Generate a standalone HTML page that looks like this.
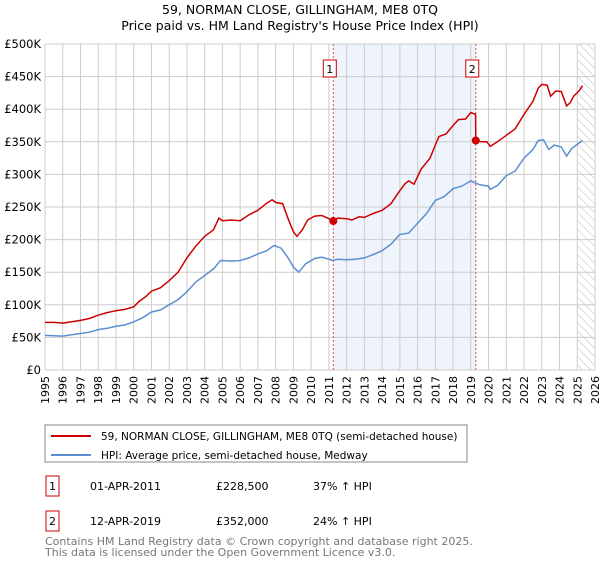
<!DOCTYPE html>
<html><head><meta charset="utf-8"><style>
body{margin:0;background:#fff;font-family:"Liberation Sans","DejaVu Sans",sans-serif;}
svg text{font-family:"DejaVu Sans","Liberation Sans",sans-serif;}
</style></head><body>
<svg width="600" height="560" xmlns="http://www.w3.org/2000/svg" id="chart">
<defs><pattern id="hatch" width="6" height="6" patternUnits="userSpaceOnUse" patternTransform="rotate(-45)"><line x1="0" y1="0" x2="0" y2="6" stroke="#bbb" stroke-width="1"/></pattern></defs>
<text x="300" y="14" text-anchor="middle" font-size="12.5" fill="#000">59, NORMAN CLOSE, GILLINGHAM, ME8 0TQ</text>
<text x="300" y="30" text-anchor="middle" font-size="12.5" fill="#000">Price paid vs. HM Land Registry's House Price Index (HPI)</text>
<g id="plot"></g>
<rect x="45" y="425" width="422" height="37" fill="#fff" stroke="#888"/>
<line x1="51" y1="436" x2="91" y2="436" stroke="#cc0000" stroke-width="2"/>
<text x="101" y="440" font-size="10.5">59, NORMAN CLOSE, GILLINGHAM, ME8 0TQ (semi-detached house)</text>
<line x1="51" y1="455" x2="91" y2="455" stroke="#5b8fd0" stroke-width="2"/>
<text x="101" y="459" font-size="10.5">HPI: Average price, semi-detached house, Medway</text>
<g font-size="11">
<rect x="46" y="476" width="13" height="20" fill="#fff" stroke="#cc0000"/>
<text x="52.5" y="490" text-anchor="middle">1</text>
<text x="90" y="490">01-APR-2011</text>
<text x="216" y="490">£228,500</text>
<text x="313" y="490">37% ↑ HPI</text>
<rect x="46" y="511" width="13" height="20" fill="#fff" stroke="#cc0000"/>
<text x="52.5" y="525" text-anchor="middle">2</text>
<text x="90" y="525">12-APR-2019</text>
<text x="216" y="525">£352,000</text>
<text x="313" y="525">24% ↑ HPI</text>
</g>
<text x="45" y="545" font-size="11" fill="#777">Contains HM Land Registry data © Crown copyright and database right 2025.</text>
<text x="45" y="556" font-size="11" fill="#777">This data is licensed under the Open Government Licence v3.0.</text>
</svg>
<script>
const yTicks=[0,50,100,150,200,250,300,350,400,450,500];
const yTickLabels=["£0","£50K","£100K","£150K","£200K","£250K","£300K","£350K","£400K","£450K","£500K"];
const years=[1995,1996,1997,1998,1999,2000,2001,2002,2003,2004,2005,2006,2007,2008,2009,2010,2011,2012,2013,2014,2015,2016,2017,2018,2019,2020,2021,2022,2023,2024,2025,2026];
const redT=[1995,1995.5,1996,1996.5,1997,1997.5,1998,1998.5,1999,1999.5,2000,2000.3,2000.7,2001,2001.5,2002,2002.5,2003,2003.5,2004,2004.5,2004.8,2005,2005.5,2006,2006.5,2007,2007.5,2007.8,2008,2008.4,2008.7,2009,2009.2,2009.5,2009.8,2010.2,2010.6,2011,2011.25,2011.5,2012,2012.3,2012.7,2013,2013.5,2014,2014.5,2015,2015.3,2015.5,2015.8,2016.2,2016.7,2017,2017.2,2017.6,2018,2018.3,2018.7,2019,2019.27,2019.28,2019.6,2019.9,2020.1,2020.5,2021,2021.5,2022,2022.5,2022.8,2023,2023.3,2023.5,2023.8,2024.1,2024.4,2024.6,2024.8,2025.1,2025.3];
const redV=[73,73,72,74,76,79,84,88,91,93,97,105,113,121,126,137,150,172,190,205,215,233,229,230,229,238,245,256,261,257,255,232,212,205,215,230,236,237,232,228.5,233,232,230,235,234,240,245,255,275,286,290,285,308,325,345,358,362,375,384,385,395,392,352,350,350,343,350,360,370,392,412,432,438,437,420,428,427,405,410,420,428,436];
const blueT=[1995,1996,1996.5,1997,1997.5,1998,1998.5,1999,1999.5,2000,2000.5,2001,2001.5,2002,2002.5,2003,2003.5,2004,2004.5,2004.9,2005.5,2006,2006.5,2007,2007.5,2007.9,2008.3,2008.7,2009,2009.3,2009.7,2010.2,2010.6,2011,2011.25,2011.5,2012,2012.5,2013,2013.5,2014,2014.5,2015,2015.5,2016,2016.5,2017,2017.5,2018,2018.5,2019,2019.5,2020,2020.1,2020.5,2021,2021.5,2022,2022.5,2022.8,2023.1,2023.4,2023.7,2024.1,2024.4,2024.7,2025.3];
const blueV=[53,52,54,56,58,62,64,67,69,74,80,89,92,100,108,120,135,145,155,168,167,168,172,178,183,191,187,172,158,150,163,171,173,170,168,170,169,170,172,177,183,193,208,210,225,240,260,266,278,282,290,284,282,277,283,298,305,325,338,352,353,338,345,342,328,340,352];
const saleT=[2011.25,2019.28];
const saleV=[228.5,352];
const saleLabels=["1","2"];
const X0=45,X1=595,Y0=370,Y1=44;
const x=t=>X0+(t-1995)/(2026-1995)*(X1-X0);
const y=v=>Y0-v/500*(Y0-Y1);
const NS="http://www.w3.org/2000/svg";
const g=document.getElementById('plot');
function mk(tag,attrs){const e=document.createElementNS(NS,tag);for(const k in attrs)e.setAttribute(k,attrs[k]);g.appendChild(e);return e;}
let e;
e=mk('rect',{x:x(saleT[0]),y:Y1,width:x(saleT[1])-x(saleT[0]),height:Y0-Y1,fill:'#eef3fc'});


e=mk('rect',{x:x(2025.0),y:Y1,width:X1-x(2025.0),height:Y0-Y1,fill:'url(#hatch)'});


years.forEach((yr,i)=>{
 e=mk('line',{x1:x(yr),x2:x(yr),y1:Y1,y2:Y0,stroke:'#cccccc','stroke-width':1});
 
 
 e=mk('text',{x:x(yr)+4,y:Y0+6,'font-size':11,transform:`rotate(-90 ${x(yr)+4} ${Y0+6})`,'text-anchor':'end'});
 e.textContent=yr;
 
 
});
yTicks.forEach((v,i)=>{
 e=mk('line',{x1:X0,x2:X1,y1:y(v),y2:y(v),stroke:'#cccccc','stroke-width':1});
 
 
 e=mk('text',{x:X0-4,y:y(v)+4,'font-size':11.5,'text-anchor':'end'});
 e.textContent=yTickLabels[i];
 
 
});
saleT.forEach((t,i)=>{
 e=mk('line',{x1:x(t),x2:x(t),y1:Y1,y2:Y0,stroke:'#e05050','stroke-width':1,'stroke-dasharray':'2,2'});
 
 
 e=mk('rect',{x:x(t)-10,y:60,width:13,height:17,fill:'#fff',stroke:'#cc0000'});
 
 
 e=mk('text',{x:x(t)-3.5,y:73,'font-size':11,'text-anchor':'middle'});
 e.textContent=saleLabels[i];
 
 
});
e=mk('path',{d:blueT.map((t,i)=>(i?'L':'M')+x(t).toFixed(1)+','+y(blueV[i]).toFixed(1)).join(''),fill:'none',stroke:'#5b8fd0','stroke-width':1.5});


e=mk('path',{d:redT.map((t,i)=>(i?'L':'M')+x(t).toFixed(1)+','+y(redV[i]).toFixed(1)).join(''),fill:'none',stroke:'#cc0000','stroke-width':1.5});


saleT.forEach((t,i)=>{
 e=mk('circle',{cx:x(t),cy:y(saleV[i]),r:4,fill:'#cc0000'});
 
 
});
</script>
</body></html>
